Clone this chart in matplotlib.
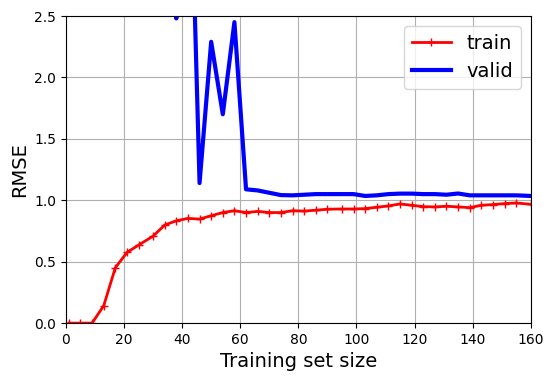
import matplotlib
matplotlib.use("Agg")
import matplotlib.pyplot as plt

train_sizes = [1, 5, 9, 13, 17, 21, 25, 30, 34, 38, 42, 46, 50, 54, 58, 62, 66, 70, 74, 78,
               82, 86, 90, 95, 99, 103, 107, 111, 115, 119, 123, 127, 131, 135, 139, 143, 147, 151, 155, 160]
train_rmse = [0.0, 0.0, 0.0, 0.141, 0.45, 0.575, 0.635, 0.708, 0.798, 0.833, 0.852, 0.847, 0.874, 0.90, 0.915,
              0.90, 0.909, 0.90, 0.90, 0.915, 0.912, 0.919, 0.927, 0.929, 0.929, 0.932, 0.943, 0.954, 0.970,
              0.959, 0.948, 0.946, 0.951, 0.946, 0.940, 0.959, 0.965, 0.973, 0.978, 0.967]
valid_rmse = [50.0, 30.0, 20.0, 15.0, 12.0, 10.0, 8.0, 6.0, 5.0, 2.48, 4.54, 1.14, 2.29, 1.70, 2.45,
              1.089, 1.08, 1.061, 1.042, 1.04, 1.045, 1.05, 1.05, 1.05, 1.05, 1.035, 1.04, 1.05, 1.054,
              1.054, 1.05, 1.05, 1.045, 1.055, 1.04, 1.04, 1.04, 1.04, 1.04, 1.035]

fig = plt.figure(figsize=(5.54, 3.81), dpi=100)
ax = fig.add_axes([0.119, 0.152, 0.839, 0.806])
ax.plot(train_sizes, train_rmse, "r-+", linewidth=2, label="train")
ax.plot(train_sizes, valid_rmse, "b-", linewidth=3, label="valid")
ax.set_xlabel("Training set size", fontsize=14)
ax.set_ylabel("RMSE", fontsize=14)
ax.grid(True)
ax.legend(loc="upper right", fontsize=14)
ax.set_xlim(0, 160)
ax.set_ylim(0, 2.5)
fig.savefig("out.png", dpi=100)
